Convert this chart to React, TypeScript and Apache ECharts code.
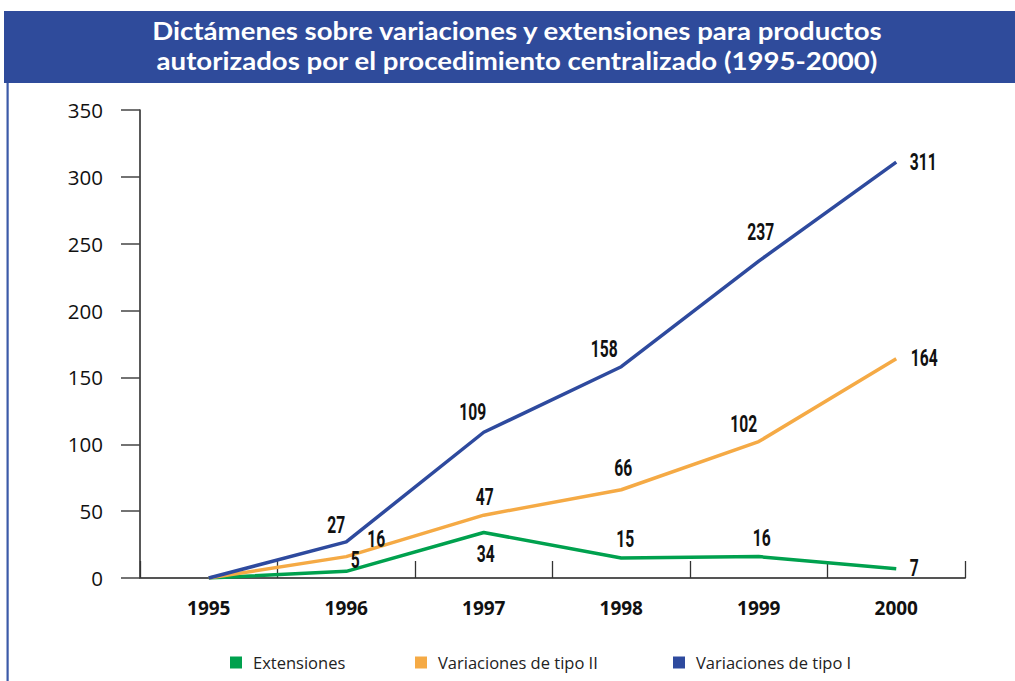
import React, { useEffect, useRef } from "react";
import * as echarts from "echarts";

const years = ["1995", "1996", "1997", "1998", "1999", "2000"];
const extensiones = [0, 5, 34, 15, 16, 7];
const tipoII = [0, 16, 47, 66, 102, 164];
const tipoI = [0, 27, 109, 158, 237, 311];
const yTicks = { min: 0, max: 350, interval: 50 };
const titleLines = [
  "Dictámenes sobre variaciones y extensiones para productos",
  "autorizados por el procedimiento centralizado (1995-2000)",
];
const seriesNames = ["Extensiones", "Variaciones de tipo II", "Variaciones de tipo I"];

// label offsets (style only) relative to each point
const offExt = [null, [9, -11], [2, 22], [4, -19], [3, -18], [18, 0]];
const offII = [null, [30, -17], [1, -18], [2, -21], [-15, -17], [28, 0]];
const offI = [null, [-10, -16], [-11, -20], [-17, -17], [2, -29], [27, 0]];

const colors = ["#00A14E", "#F5AA45", "#2E4A9E"];
const labelFont = "bold 23px Roboto, 'Noto Sans', sans-serif";
const baseFont = "'Open Sans', 'Noto Sans', sans-serif";
const titleFont = "bold 24px Lato, 'Open Sans', sans-serif";

export default function App() {
  const ref = useRef<HTMLDivElement>(null);
  useEffect(() => {
    if (!ref.current) return;
    const chart = echarts.init(ref.current, undefined, { renderer: "svg" });
    const lineSeries = (name: string, vals: number[], color: string) => ({
      name,
      type: "line",
      data: vals,
      symbol: "none",
      itemStyle: { color },
      lineStyle: { color, width: 3.5 },
      emphasis: { disabled: true },
      z: 2,
    });
    const labelSeries = (vals: number[], offs: (number[] | null)[]) => ({
      type: "custom",
      data: vals.map((v, i) => [i, v]),
      silent: true,
      z: 5,
      renderItem: (params: any, api: any) => {
        const off = offs[params.dataIndex];
        if (!off) return null;
        const p = api.coord([api.value(0), api.value(1)]);
        return {
          type: "text",
          x: p[0] + off[0],
          y: p[1] + off[1],
          scaleX: 0.68,
          style: {
            text: String(api.value(1)),
            font: labelFont,
            fill: "#111",
            align: "center",
            verticalAlign: "middle",
          },
        };
      },
    });
    const legendItem = (name: string, left: number) => ({
      data: [{ name, icon: "rect" }],
      left,
      top: 649,
      itemWidth: 12,
      itemHeight: 12,
      itemGap: 0,
      selectedMode: false,
      textStyle: { fontFamily: baseFont, fontSize: 16.5, color: "#222", padding: [0, 0, 0, 6] },
    });
    const titleText = (text: string, y: number) => ({
      type: "text",
      x: 517,
      y,
      scaleX: 1.15,
      style: {
        text,
        fill: "#ffffff",
        font: titleFont,
        align: "center",
        verticalAlign: "middle",
      },
      silent: true,
    });
    chart.setOption({
      animation: false,
      backgroundColor: "#ffffff",
      graphic: [
        { type: "rect", shape: { x: 4, y: 11, width: 1011, height: 72 }, style: { fill: "#2F4B9B" }, silent: true },
        { type: "rect", shape: { x: 6.5, y: 83, width: 2.2, height: 600 }, style: { fill: "#3C5AA8" }, silent: true },
        titleText(titleLines[0], 31),
        titleText(titleLines[1], 60.5),
      ],
      legend: [
        legendItem(seriesNames[0], 225),
        legendItem(seriesNames[1], 410),
        legendItem(seriesNames[2], 668),
      ],
      grid: { left: 140, right: 50, top: 110, bottom: 103 },
      xAxis: {
        type: "category",
        data: years,
        boundaryGap: true,
        axisLine: { show: true, lineStyle: { color: "#555", width: 2 } },
        axisTick: { show: true, inside: true, length: 17, interval: 0, lineStyle: { color: "#333", width: 1.3 } },
        axisLabel: {
          margin: 20,
          color: "#111",
          fontFamily: baseFont,
          fontWeight: "bold",
          fontSize: 19,
          interval: 0,
        },
        splitLine: { show: false },
      },
      yAxis: {
        type: "value",
        min: yTicks.min,
        max: yTicks.max,
        interval: yTicks.interval,
        axisLine: { show: true, lineStyle: { color: "#222", width: 1.5 } },
        axisTick: { show: true, length: 19, lineStyle: { color: "#444", width: 1.5 } },
        axisLabel: { margin: 37, color: "#111", fontFamily: baseFont, fontSize: 20.5 },
        splitLine: { show: false },
      },
      series: [
        lineSeries(seriesNames[0], extensiones, colors[0]),
        lineSeries(seriesNames[1], tipoII, colors[1]),
        lineSeries(seriesNames[2], tipoI, colors[2]),
        labelSeries(extensiones, offExt),
        labelSeries(tipoII, offII),
        labelSeries(tipoI, offI),
      ],
    });
    return () => chart.dispose();
  }, []);
  return (
    <div
      ref={ref}
      style={{ position: "absolute", left: 0, top: 0, width: 1015, height: 681, background: "#fff" }}
    />
  );
}
